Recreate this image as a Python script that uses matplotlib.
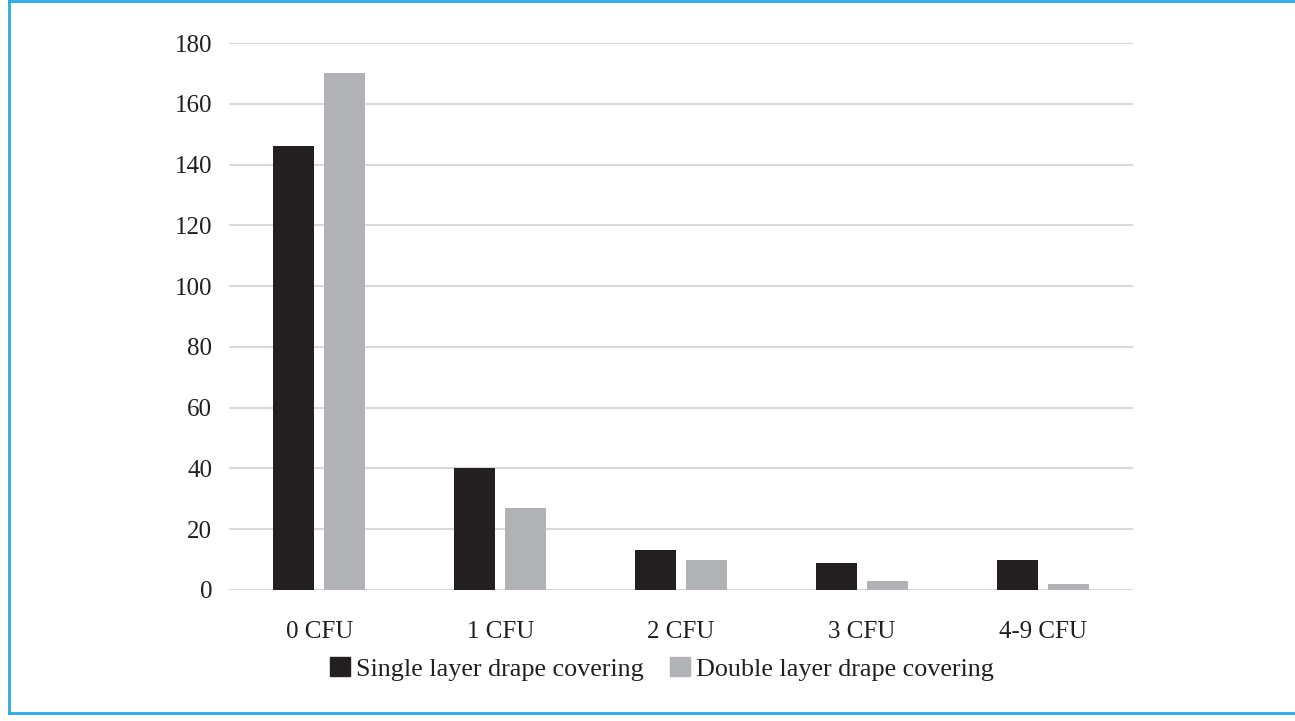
import numpy as np
import matplotlib
matplotlib.use('Agg')
import matplotlib.pyplot as plt
from matplotlib.lines import Line2D
from matplotlib.patches import Patch

plt.rcParams['font.family'] = ['Liberation Serif', 'DejaVu Serif']

categories = ['0 CFU', '1 CFU', '2 CFU', '3 CFU', '4-9 CFU']
single_layer = [146, 40, 13, 9, 10]
double_layer = [170, 27, 10, 3, 2]
yticks = [0, 20, 40, 60, 80, 100, 120, 140, 160, 180]

col_single = '#231f20'
col_double = '#b1b2b5'
grid_col = '#d9d9d9'
frame_col = '#2aa9e0'

fig = plt.figure(figsize=(12.95, 7.21), dpi=100)
ax = fig.add_axes([229/1295, 1-590/721, 904/1295, 547/721])

x = np.arange(len(categories))
w = 0.227
off = 0.141
ax.bar(x - off, single_layer, w, color=col_single, zorder=3,
       label='Single layer drape covering')
ax.bar(x + off, double_layer, w, color=col_double, zorder=3,
       label='Double layer drape covering')

ax.set_xlim(-0.5, len(categories) - 0.5)
ax.set_ylim(0, 180)
ax.set_yticks(yticks)
ax.set_xticks(x)
ax.set_xticklabels(categories)
ax.yaxis.grid(True, color=grid_col, linewidth=1.5, zorder=0)
for s in ax.spines.values():
    s.set_visible(False)
ax.tick_params(axis='both', length=0, labelsize=18, colors='#231f20')
ax.tick_params(axis='y', pad=12)
ax.tick_params(axis='x', pad=22)

handles = [Patch(color=col_single), Patch(color=col_double)]
leg = fig.legend(handles, ['Single layer drape covering', 'Double layer drape covering'],
                 loc='center', bbox_to_anchor=(662/1295, 1-669/721), ncol=2,
                 frameon=False, fontsize=18.8, handlelength=0.75, handleheight=0.75,
                 handletextpad=0.25, columnspacing=1.0)
for t in leg.get_texts():
    t.set_color('#231f20')

# light blue frame: top, left and bottom edges only
fx0 = 9/1295
fy_top = 1 - 1/721
fy_bot = 1 - 713/721
for xs, ys in [([fx0, 1], [fy_top, fy_top]),
               ([fx0, fx0], [fy_bot, fy_top]),
               ([fx0, 1], [fy_bot, fy_bot])]:
    fig.add_artist(Line2D(xs, ys, transform=fig.transFigure,
                          color=frame_col, linewidth=2.0))

plt.savefig('out.png', dpi=100)
